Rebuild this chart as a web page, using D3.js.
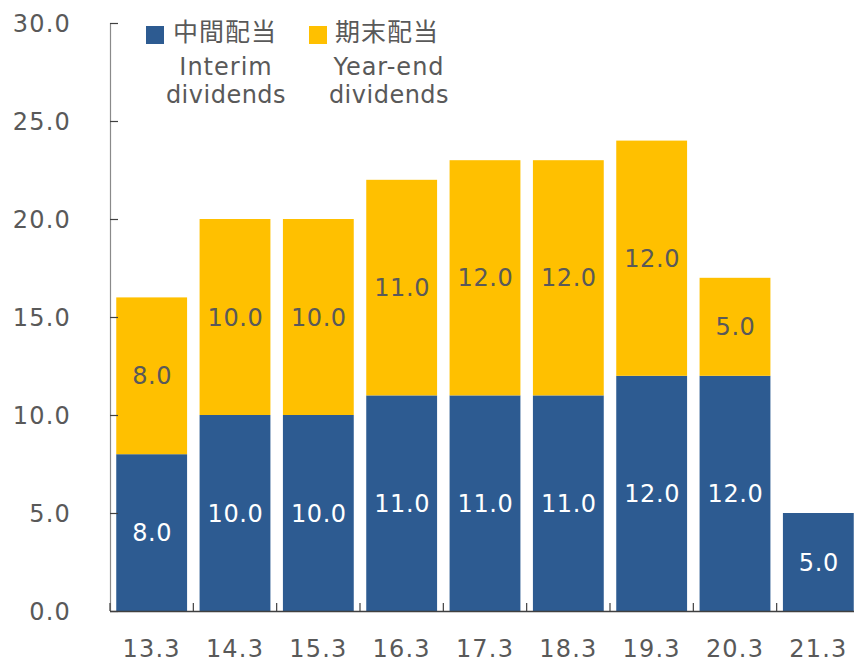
<!DOCTYPE html>
<html>
<head>
<meta charset="utf-8">
<script src="https://cdn.jsdelivr.net/npm/d3@7/dist/d3.min.js"></script>
<style>
  html, body { margin: 0; padding: 0; background: #fff; }
  svg { display: block; }
  text { font-family: "DejaVu Sans", "Noto Sans CJK JP", sans-serif; }
</style>
</head>
<body>
<svg id="chart" width="854" height="663"></svg>
<script>
const categories = ["13.3","14.3","15.3","16.3","17.3","18.3","19.3","20.3","21.3"];
const interim = [8, 10, 10, 11, 11, 11, 12, 12, 5];
const yearEnd = [8, 10, 10, 11, 12, 12, 12, 5, 0];
const yTicks = [0, 5, 10, 15, 20, 25, 30];

const blue = "#2D5B91", yellow = "#FFC000", textGray = "#595959";

const svg = d3.select("#chart");
const x = d3.scaleBand().domain(categories).range([110, 860]).paddingInner(0.15).paddingOuter(0.075);
const y = d3.scaleLinear().domain([0, 30]).range([611, 23]);

const rows = categories.map((c, i) => ({c, a: interim[i], b: yearEnd[i]}));

// bars
const g = svg.append("g");
g.selectAll("rect.interim").data(rows).join("rect")
  .attr("x", d => x(d.c)).attr("width", x.bandwidth())
  .attr("y", d => y(d.a)).attr("height", d => y(0) - y(d.a))
  .attr("fill", blue);
g.selectAll("rect.yearend").data(rows.filter(d => d.b > 0)).join("rect")
  .attr("x", d => x(d.c)).attr("width", x.bandwidth())
  .attr("y", d => y(d.a + d.b)).attr("height", d => y(d.a) - y(d.a + d.b))
  .attr("fill", yellow);

// labels
g.selectAll("text.la").data(rows).join("text")
  .attr("x", d => x(d.c) + x.bandwidth() / 2 + 0.5)
  .attr("y", d => y(d.a / 2)).attr("dy", "0.36em")
  .attr("text-anchor", "middle").attr("fill", "#fff")
  .style("font-size", "24px").style("letter-spacing", "0.6px")
  .text(d => d.a.toFixed(1));
g.selectAll("text.lb").data(rows.filter(d => d.b > 0)).join("text")
  .attr("x", d => x(d.c) + x.bandwidth() / 2 + 0.5)
  .attr("y", d => y(d.a + d.b / 2)).attr("dy", "0.36em")
  .attr("text-anchor", "middle").attr("fill", textGray)
  .style("font-size", "24px").style("letter-spacing", "0.6px")
  .text(d => d.b.toFixed(1));

// y axis
const yAxis = svg.append("g").attr("transform", "translate(110,0)")
  .call(d3.axisRight(y).tickValues(yTicks).tickSize(8).tickFormat(""));
yAxis.select(".domain").attr("stroke", "#8a8a8a").attr("stroke-width", 1.2).attr("d", `M0.5,${y(30)}V${y(0)}`);
yAxis.selectAll(".tick line").attr("stroke", "#404040").attr("stroke-width", 1.2);
svg.append("g").selectAll("text").data(yTicks).join("text")
  .attr("x", 71).attr("y", d => y(d)).attr("dy", "0.36em")
  .attr("text-anchor", "end").attr("fill", textGray)
  .style("font-size", "24px").style("letter-spacing", "1.2px")
  .text(d => d.toFixed(1));

// x axis
const bounds = categories.map(c => x(c) - x.step() * x.paddingInner() / 2).concat([860]);
svg.append("line").attr("x1", 110).attr("x2", 854).attr("y1", 611.5).attr("y2", 611.5)
  .attr("stroke", "#404040").attr("stroke-width", 1.5);
svg.append("g").selectAll("line").data(bounds.slice(0, 9)).join("line")
  .attr("x1", d => d).attr("x2", d => d).attr("y1", 611).attr("y2", 603)
  .attr("stroke", "#404040").attr("stroke-width", 1.2);
svg.append("g").selectAll("text").data(categories).join("text")
  .attr("x", d => x(d) + x.bandwidth() / 2).attr("y", 657)
  .attr("text-anchor", "middle").attr("fill", textGray)
  .style("font-size", "24px").style("letter-spacing", "1.2px")
  .text(d => d);

// legend
const legend = [
  {color: blue, jp: "中間配当", en: ["Interim", "dividends"], sx: 146, tx: 173, cx: 226},
  {color: yellow, jp: "期末配当", en: ["Year-end", "dividends"], sx: 309, tx: 335, cx: 389}
];
const lg = svg.append("g").selectAll("g").data(legend).join("g");
lg.append("rect").attr("x", d => d.sx).attr("y", 26).attr("width", 18).attr("height", 18).attr("fill", d => d.color);
lg.append("text").attr("x", d => d.tx).attr("y", 41).attr("fill", textGray)
  .style("font-family", "'Noto Sans CJK JP', sans-serif").style("font-size", "25px").style("letter-spacing", "1px")
  .text(d => d.jp);
lg.append("text").attr("x", d => d.cx).attr("y", 75).attr("text-anchor", "middle").attr("fill", textGray)
  .style("font-size", "24px").style("letter-spacing", "1px").text(d => d.en[0]);
lg.append("text").attr("x", d => d.cx).attr("y", 103).attr("text-anchor", "middle").attr("fill", textGray)
  .style("font-size", "24px").style("letter-spacing", "0.5px").text(d => d.en[1]);
</script>
</body>
</html>
